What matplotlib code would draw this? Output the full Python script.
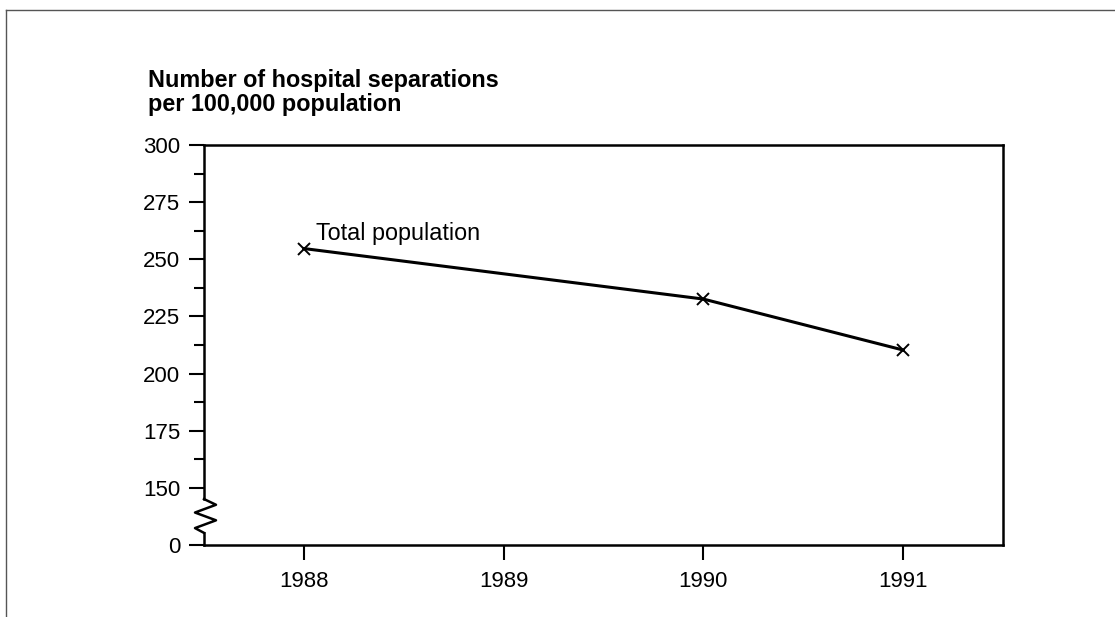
import matplotlib.pyplot as plt
from matplotlib.lines import Line2D
import matplotlib.transforms as mtransforms

plt.rcParams['font.family'] = ['Liberation Sans', 'DejaVu Sans']

# data
years = [1988, 1990, 1991]
separations = [254.7, 232.6, 210.3]
series_label = 'Total population'

# y axis is broken: the lowest tick stands for 0
ytick_pos = [125, 150, 175, 200, 225, 250, 275, 300]
ytick_labels = ['0', '150', '175', '200', '225', '250', '275', '300']
xtick_years = [1988, 1989, 1990, 1991]
title_lines = ['Number of hospital separations', 'per 100,000 population']

fig = plt.figure(figsize=(11.15, 6.17), dpi=100)
ax = fig.add_axes([204 / 1115, 1 - 545 / 617, 799 / 1115, 400 / 617])

ax.plot(years, separations, color='black', linewidth=2.2, marker='x',
        markersize=8, markeredgewidth=1.4, clip_on=False)
ax.annotate(series_label, xy=(years[0], separations[0]), xytext=(8.5, 10.5),
            textcoords='offset points', ha='left', va='center', fontsize=16.8)

ax.set_xlim(1987.5, 1991.5)
ax.set_ylim(125, 300)
ax.set_xticks(xtick_years)
ax.set_xticklabels([str(y) for y in xtick_years])
ax.set_yticks(ytick_pos)
ax.set_yticklabels(ytick_labels)
ax.set_yticks([162.5 + 25 * i for i in range(6)], minor=True)

ax.tick_params(axis='both', which='major', direction='out', length=11,
               width=1.5, labelsize=16, color='black')
ax.tick_params(axis='y', which='major', pad=6)
ax.tick_params(axis='x', which='major', pad=7.5)
ax.tick_params(axis='y', which='minor', direction='out', length=7, width=1.5)

for side in ['top', 'right', 'bottom', 'left']:
    ax.spines[side].set_linewidth(1.8)
# break in the left spine
ax.spines['left'].set_bounds(145.1, 300)
trans = mtransforms.blended_transform_factory(ax.transAxes, ax.transData)
ax.add_line(Line2D([0, 0], [125, 130.3], transform=trans, color='black',
                   linewidth=1.8, clip_on=False))
px = 1 / 799
zig_x = [0, 12 * px, -9 * px, 12 * px, -9 * px, 0]
zig_y = [145.1, 142.6, 139.2, 135.8, 132.4, 130.3]
ax.add_line(Line2D(zig_x, zig_y, transform=trans, color='black',
                   linewidth=1.8, clip_on=False))

# title above the axis
fig.text(148 / 1115, 1 - 80 / 617, title_lines[0], fontsize=16.8,
         fontweight='bold', va='center', ha='left')
fig.text(148 / 1115, 1 - 104 / 617, title_lines[1], fontsize=16.8,
         fontweight='bold', va='center', ha='left')

# frame lines on the top and left edge
fig.add_artist(Line2D([6 / 1115, 1], [1 - 10 / 617, 1 - 10 / 617],
                      transform=fig.transFigure, color='#555555', linewidth=1))
fig.add_artist(Line2D([6 / 1115, 6 / 1115], [1 - 10 / 617, 0],
                      transform=fig.transFigure, color='#555555', linewidth=1))

fig.savefig('out.png', dpi=100)
